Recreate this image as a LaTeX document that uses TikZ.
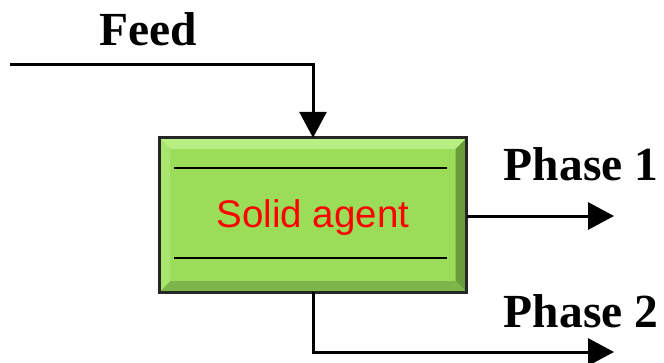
\documentclass[tikz,border=0pt]{standalone}
\usepackage{fontspec}
\setmainfont{Liberation Serif}
\newfontfamily\arialfont{Liberation Sans}
\usetikzlibrary{arrows.meta,calc}
\definecolor{boxgreen}{HTML}{9BDD58}
\definecolor{bevtop}{HTML}{B8F083}
\definecolor{bevleft}{HTML}{A8E46E}
\definecolor{bevright}{HTML}{6B9C3A}
\definecolor{bevbot}{HTML}{7EB54A}
\tikzset{
  flow/.style={line width=3pt,-{Triangle[length=26pt,width=27pt]}},
  label/.style={font=\fontsize{47.5}{47.5}\selectfont\bfseries,inner sep=0pt,anchor=base},
  agentbox/.style={minimum width=307pt,minimum height=154pt,inner sep=0pt,fill=boxgreen}
}
\begin{document}
\begin{tikzpicture}[x=1pt,y=-1pt]
\useasboundingbox (0,0) rectangle (664,362);
\node[agentbox] (box) at (313,215) {};
% bevels
\def\bv{11}
\fill[bevtop] (box.north west) -- (box.north east) -- ($(box.north east)+(-\bv,\bv)$) -- ($(box.north west)+(\bv,\bv)$) -- cycle;
\fill[bevleft] (box.north west) -- ($(box.north west)+(\bv,\bv)$) -- ($(box.south west)+(\bv,-\bv)$) -- (box.south west) -- cycle;
\fill[bevright] (box.north east) -- ($(box.north east)+(-\bv,\bv)$) -- ($(box.south east)+(-\bv,-\bv)$) -- (box.south east) -- cycle;
\fill[bevbot] (box.south west) -- ($(box.south west)+(\bv,-\bv)$) -- ($(box.south east)+(-\bv,-\bv)$) -- (box.south east) -- cycle;
\draw[line width=3pt,black!85] (box.north west) rectangle (box.south east);
\draw[line width=2pt] ($(box.north west)+(15,30)$) coordinate (l1a) -- ($(box.north east)+(-20,30)$) coordinate (l1b);
\draw[line width=2pt] ($(box.south west)+(15,-34)$) coordinate (l2a) -- ($(box.south east)+(-20,-34)$) coordinate (l2b);
\node[text=red,font=\arialfont\fontsize{38.5}{38.5}\selectfont,inner sep=0pt] (agent) at (313,218) {Solid agent};
% labels
\node[label] (feed) at (148,45) {Feed};
\node[label] (ph1) at (581,180) {Phase 1};
\node[label] (ph2) at (581,327) {Phase 2};
% connectors
\coordinate (fin) at (10,64);
\coordinate (o1) at (614,216);
\coordinate (o2) at (614,352);
\draw[flow] (fin) -| (box.north);
\draw[flow] (box.east |- o1) -- (o1);
\draw[flow] (box.south) |- (o2);
\end{tikzpicture}
\end{document}
